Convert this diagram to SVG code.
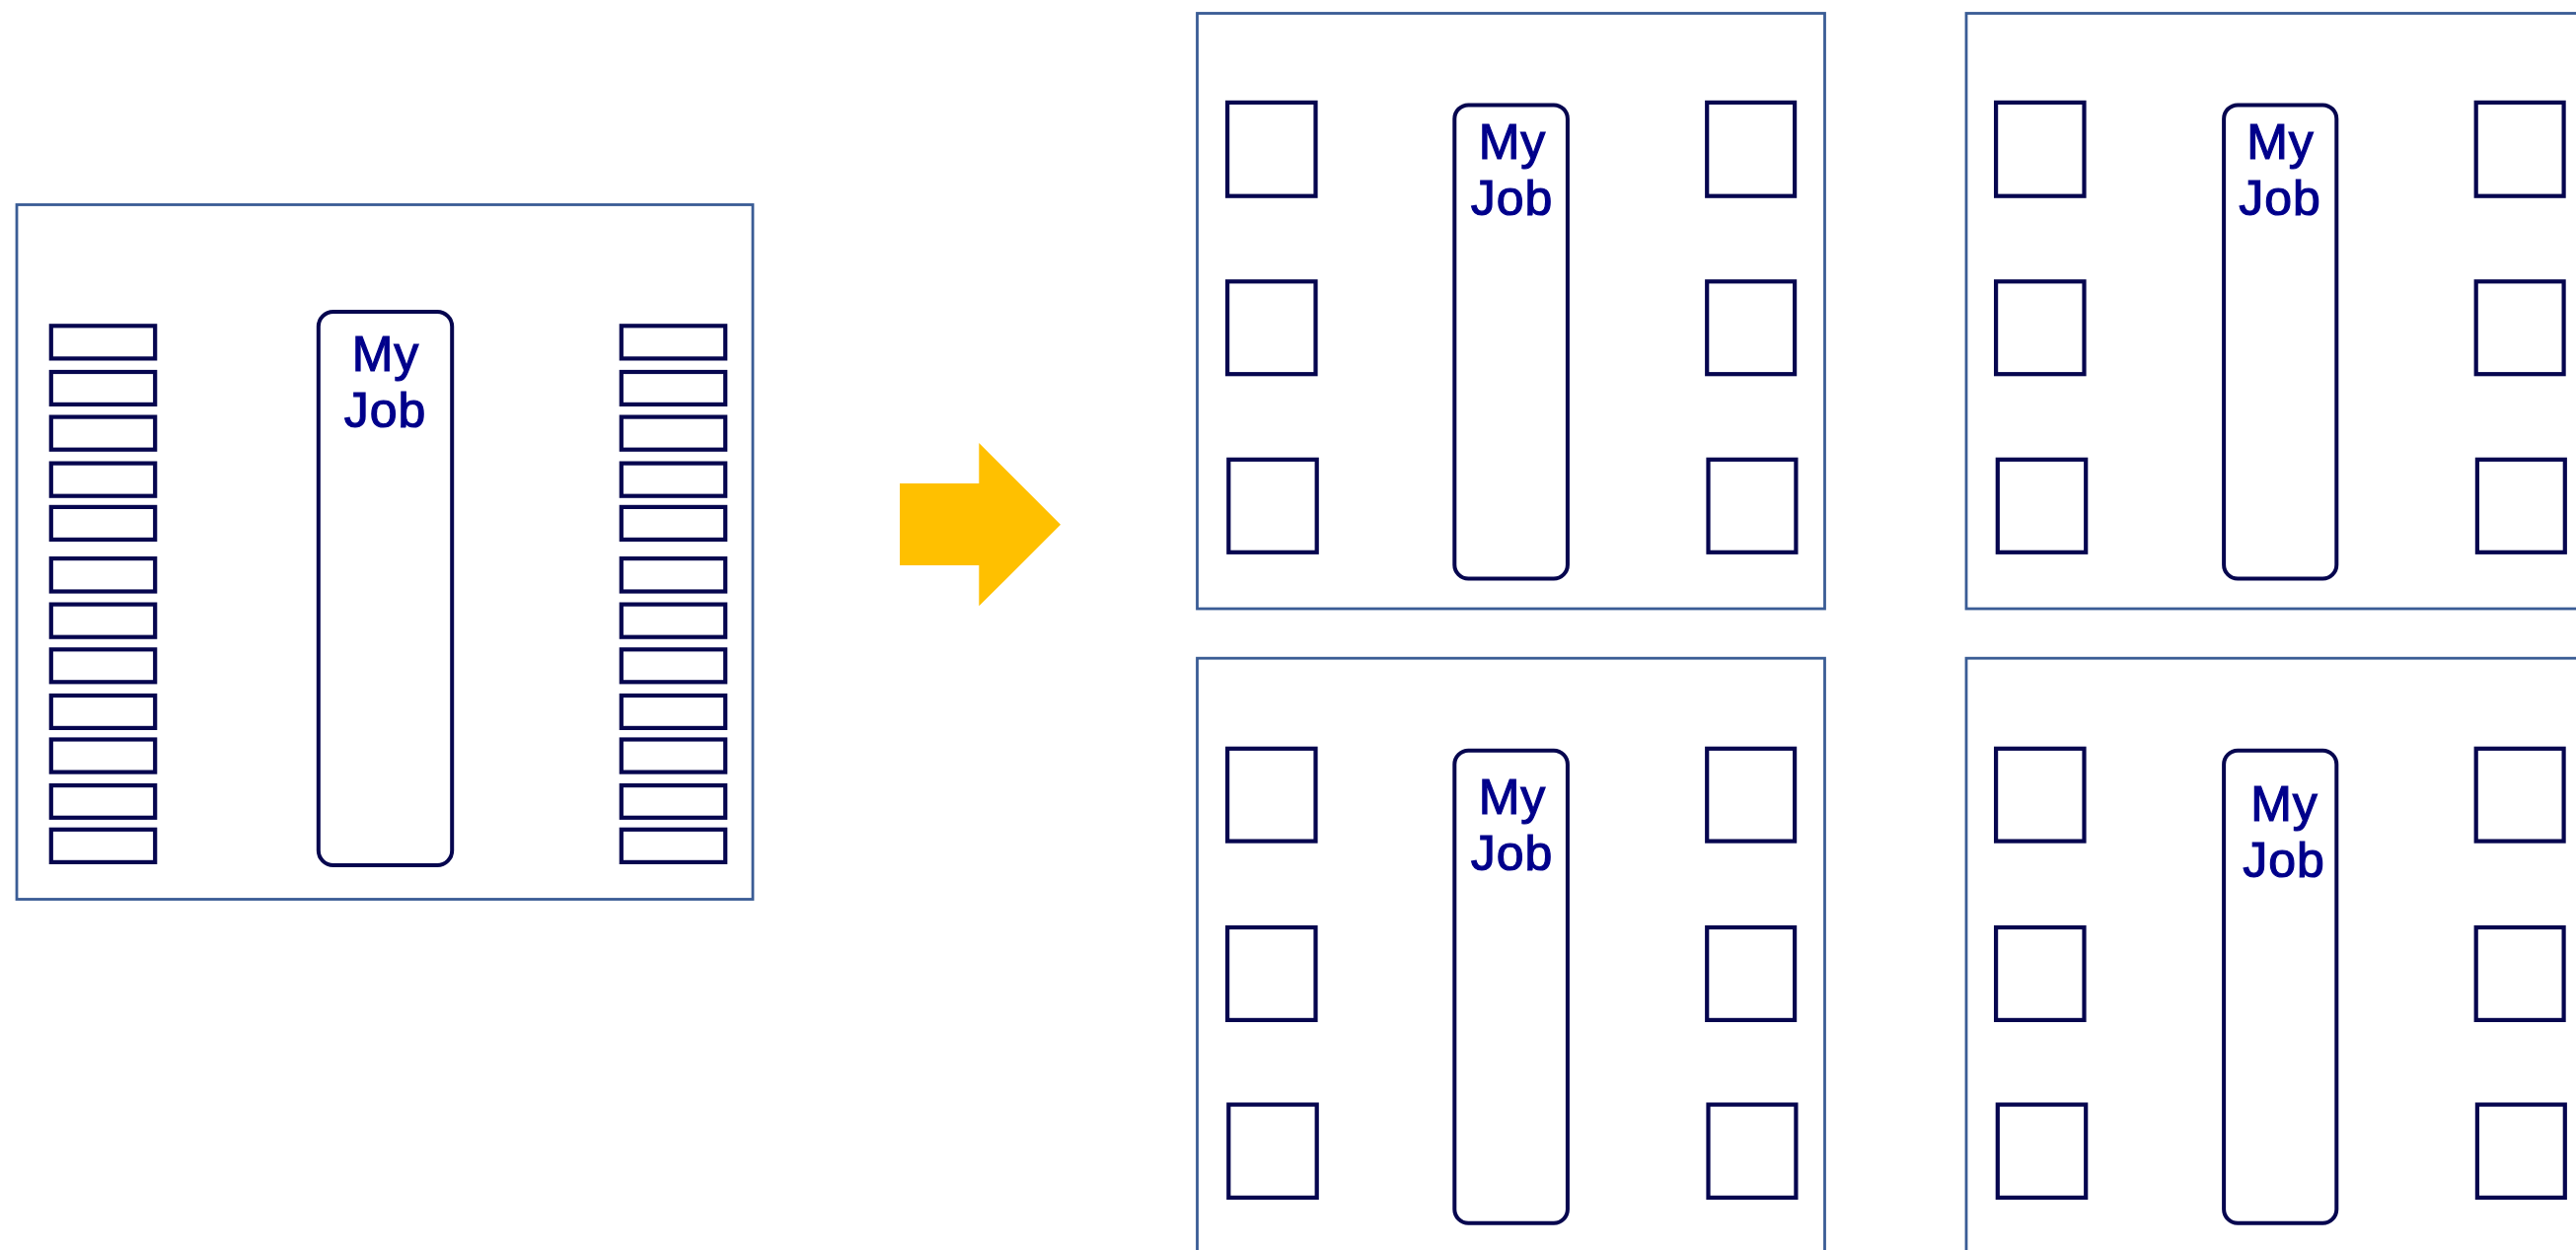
<svg xmlns="http://www.w3.org/2000/svg" width="2611" height="1267" viewBox="0 0 2611 1267">
<style>
.frame{fill:#ffffff;stroke:#3A5C95;stroke-width:2.8}
.slot{fill:#ffffff;stroke:#06064F;stroke-width:4.2}
.job{fill:#ffffff;stroke:#06064F;stroke-width:4}
.lbl{font-family:"Liberation Sans",Arial,sans-serif;font-size:50px;fill:#00008B;stroke:#00008B;stroke-width:1.2;text-anchor:middle;letter-spacing:1px}
</style>
<rect width="2611" height="1267" fill="#ffffff"/>

<!-- Left panel: before -->
<g id="panel-before">
  <rect class="frame" x="17" y="207.5" width="746" height="704"/>
  <g id="before-left-slots">
    <rect class="slot" x="51.8" y="330.3" width="105.4" height="33.1"/>
    <rect class="slot" x="51.8" y="377" width="105.4" height="32.9"/>
    <rect class="slot" x="51.8" y="422.6" width="105.4" height="33.1"/>
    <rect class="slot" x="51.8" y="469.6" width="105.4" height="33.1"/>
    <rect class="slot" x="51.8" y="513.9" width="105.4" height="33"/>
    <rect class="slot" x="51.8" y="566.1" width="105.4" height="33.4"/>
    <rect class="slot" x="51.8" y="612.6" width="105.4" height="33.1"/>
    <rect class="slot" x="51.8" y="658.3" width="105.4" height="33"/>
    <rect class="slot" x="51.8" y="705" width="105.4" height="32.9"/>
    <rect class="slot" x="51.8" y="749.5" width="105.4" height="33.1"/>
    <rect class="slot" x="51.8" y="796.1" width="105.4" height="32.7"/>
    <rect class="slot" x="51.8" y="840.8" width="105.4" height="33.1"/>
  </g>
  <g id="before-right-slots">
    <rect class="slot" x="629.8" y="330.3" width="105.4" height="33.1"/>
    <rect class="slot" x="629.8" y="377" width="105.4" height="32.9"/>
    <rect class="slot" x="629.8" y="422.6" width="105.4" height="33.1"/>
    <rect class="slot" x="629.8" y="469.6" width="105.4" height="33.1"/>
    <rect class="slot" x="629.8" y="513.9" width="105.4" height="33"/>
    <rect class="slot" x="629.8" y="566.1" width="105.4" height="33.4"/>
    <rect class="slot" x="629.8" y="612.6" width="105.4" height="33.1"/>
    <rect class="slot" x="629.8" y="658.3" width="105.4" height="33"/>
    <rect class="slot" x="629.8" y="705" width="105.4" height="32.9"/>
    <rect class="slot" x="629.8" y="749.5" width="105.4" height="33.1"/>
    <rect class="slot" x="629.8" y="796.1" width="105.4" height="32.7"/>
    <rect class="slot" x="629.8" y="840.8" width="105.4" height="33.1"/>
  </g>
  <g id="before-job">
    <rect class="job" x="322.8" y="316" width="135.4" height="561" rx="15"/>
    <text class="lbl" x="391" y="376">My</text>
    <text class="lbl" x="390.5" y="432.7">Job</text>
  </g>
</g>

<!-- Arrow -->
<g id="connectors">
  <polygon points="912,490 992.3,490 992.3,449 1075,531.7 992.3,614.3 992.3,573 912,573" fill="#FFC000"/>
</g>

<!-- Panel top-left (after) -->
<g id="panel-1">
  <rect class="frame" x="1213.5" y="13.5" width="636" height="603.5"/>
  <rect class="slot" x="1244.1" y="103.9" width="89.4" height="94.8"/>
  <rect class="slot" x="1244.1" y="285.3" width="89.4" height="93.9"/>
  <rect class="slot" x="1245.3" y="465.8" width="89.4" height="94"/>
  <rect class="slot" x="1730.2" y="103.9" width="88.9" height="94.8"/>
  <rect class="slot" x="1730.2" y="285.3" width="88.9" height="93.9"/>
  <rect class="slot" x="1731.5" y="465.8" width="88.9" height="94"/>
  <g id="job-1">
    <rect class="job" x="1474.3" y="106.4" width="114.6" height="480" rx="14"/>
    <text class="lbl" x="1533" y="161.2">My</text>
    <text class="lbl" x="1532.5" y="218">Job</text>
  </g>
</g>

<!-- Panel top-right (after) -->
<g id="panel-2">
  <rect class="frame" x="1993" y="13.5" width="700" height="603.5"/>
  <rect class="slot" x="2023.1" y="103.9" width="89.4" height="94.8"/>
  <rect class="slot" x="2023.1" y="285.3" width="89.4" height="93.9"/>
  <rect class="slot" x="2024.8" y="465.8" width="89.4" height="94"/>
  <rect class="slot" x="2509.7" y="103.9" width="88.9" height="94.8"/>
  <rect class="slot" x="2509.7" y="285.3" width="88.9" height="93.9"/>
  <rect class="slot" x="2510.9" y="465.8" width="88.9" height="94"/>
  <g id="job-2">
    <rect class="job" x="2254.1" y="106.4" width="114.2" height="480" rx="14"/>
    <text class="lbl" x="2311.5" y="161.2">My</text>
    <text class="lbl" x="2311" y="218">Job</text>
  </g>
</g>

<!-- Panel bottom-left (after) -->
<g id="panel-3">
  <rect class="frame" x="1213.5" y="667.2" width="636" height="700"/>
  <rect class="slot" x="1244.1" y="758.8" width="89.4" height="93.8"/>
  <rect class="slot" x="1244.1" y="940" width="89.4" height="93.9"/>
  <rect class="slot" x="1245.3" y="1119.6" width="89.4" height="94.3"/>
  <rect class="slot" x="1730.2" y="758.8" width="88.9" height="93.8"/>
  <rect class="slot" x="1730.2" y="940" width="88.9" height="93.9"/>
  <rect class="slot" x="1731.5" y="1119.6" width="88.9" height="94.3"/>
  <g id="job-3">
    <rect class="job" x="1474.3" y="760.8" width="114.6" height="479" rx="14"/>
    <text class="lbl" x="1533" y="825">My</text>
    <text class="lbl" x="1532.5" y="882">Job</text>
  </g>
</g>

<!-- Panel bottom-right (after) -->
<g id="panel-4">
  <rect class="frame" x="1993" y="667.2" width="700" height="700"/>
  <rect class="slot" x="2023.1" y="758.8" width="89.4" height="93.8"/>
  <rect class="slot" x="2023.1" y="940" width="89.4" height="93.9"/>
  <rect class="slot" x="2024.8" y="1119.6" width="89.4" height="94.3"/>
  <rect class="slot" x="2509.7" y="758.8" width="88.9" height="93.8"/>
  <rect class="slot" x="2509.7" y="940" width="88.9" height="93.9"/>
  <rect class="slot" x="2510.9" y="1119.6" width="88.9" height="94.3"/>
  <g id="job-4">
    <rect class="job" x="2254.1" y="760.8" width="114.2" height="479" rx="14"/>
    <text class="lbl" x="2315.5" y="832">My</text>
    <text class="lbl" x="2315" y="889">Job</text>
  </g>
</g>
</svg>
